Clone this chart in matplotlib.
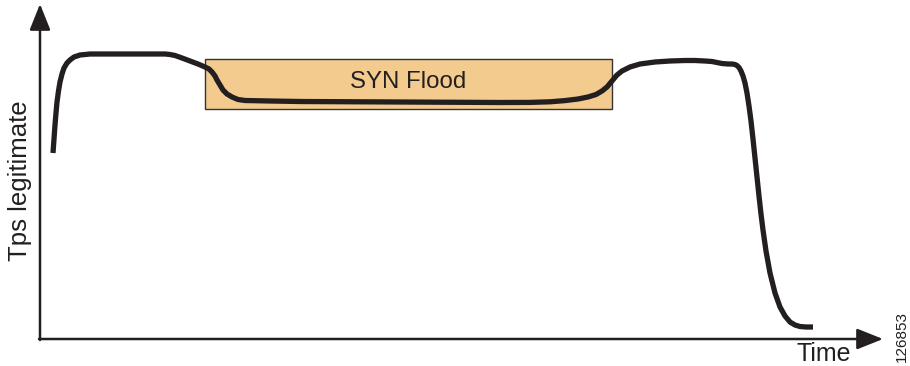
import matplotlib.pyplot as plt
from matplotlib.patches import Rectangle

plt.rcParams['font.family'] = ['Liberation Sans', 'DejaVu Sans']

# legitimate transactions per second over time (origin = axes corner)
time = [13, 14, 15, 16, 17, 18.5, 20, 22, 24, 27, 30, 34, 40, 50, 60, 90, 125, 130,
        135, 142, 150, 158, 165, 169, 172, 175, 177, 180, 183, 187, 192, 198, 205,
        230, 260, 360, 460, 490, 510, 525, 538, 548, 556, 562, 567, 572, 577, 582,
        590, 600, 615, 630, 645, 655, 665, 672, 682, 688, 692, 695, 697, 699, 701,
        703, 705, 707, 709, 711, 713, 715, 717, 719, 721, 723, 726, 730, 735, 740,
        745, 750, 755, 760, 766, 773]
tps = [186, 200, 214, 226, 237, 248, 257, 265, 271, 276, 279, 282, 284, 285, 285,
       285, 285, 284.5, 283.5, 281, 278, 275, 272, 270, 267, 263, 259, 254, 249,
       245, 242, 239.5, 238.5, 238, 237.5, 237, 236.5, 236.6, 237.2, 238.4, 240,
       242, 244.5, 248, 252, 258, 264, 268, 272, 275, 277, 278, 278.5, 278.5, 278,
       277.5, 275.5, 275, 275, 274.5, 273.5, 271.5, 268, 263, 256, 246, 233, 218,
       200, 181, 162, 143, 125, 109, 88, 66, 46, 32, 23, 17, 14, 12.5, 12, 12]

flood_start, flood_end = 165, 572
flood_low, flood_high = 230, 280

fig = plt.figure(figsize=(9.1, 3.66), dpi=100)
ax = fig.add_axes([0, 0, 1, 1])
ax.set_xlim(-40, 870)
ax.set_ylim(-27, 339)
ax.axis('off')

ax.add_patch(Rectangle((flood_start, flood_low), flood_end - flood_start,
                       flood_high - flood_low, facecolor='#F3CB8E',
                       edgecolor='#333333', lw=1.0, zorder=1))
ax.text((flood_start + flood_end) / 2, (flood_low + flood_high) / 2 + 2, 'SYN Flood',
        ha='center', va='center', fontsize=17.3, color='#231f20', zorder=3)

ax.plot(time, tps, color='#231f20', lw=3.8, solid_capstyle='butt',
        solid_joinstyle='round', zorder=2)

# axes with arrows
arrow = dict(arrowstyle='-|>,head_length=1.0,head_width=0.4', lw=1.8,
             color='#231f20', mutation_scale=16, shrinkA=0, shrinkB=0)
ax.annotate('', xy=(0, 335), xytext=(0, -1), arrowprops=arrow)
ax.annotate('', xy=(843, 0), xytext=(-1, 0), arrowprops=arrow)

ax.text(-20, 158, 'Tps legitimate', rotation=90, ha='center', va='center',
        fontsize=18.5, color='#231f20')
ax.text(784, -15, 'Time', ha='center', va='center', fontsize=18, color='#231f20')
ax.text(862, 2, '126853', rotation=90, ha='center', va='center',
        fontsize=11, color='#231f20')

fig.savefig('out.png', dpi=100)
